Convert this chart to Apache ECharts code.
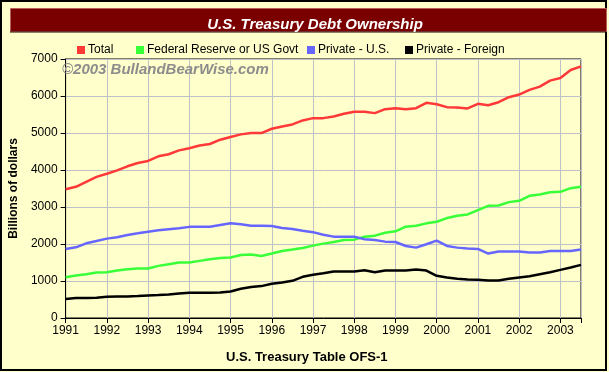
<!DOCTYPE html>
<html>
<head>
<meta charset="utf-8">
<script src="https://cdn.jsdelivr.net/npm/echarts@6/dist/echarts.min.js"></script>
<style>
html,body{margin:0;padding:0;background:#FFFFCC;}
#chart{width:609px;height:372px;}
</style>
</head>
<body>
<div id="chart"></div>
<script>
const quarters = [
  1991, 1991.25, 1991.5, 1991.75,
  1992, 1992.25, 1992.5, 1992.75,
  1993, 1993.25, 1993.5, 1993.75,
  1994, 1994.25, 1994.5, 1994.75,
  1995, 1995.25, 1995.5, 1995.75,
  1996, 1996.25, 1996.5, 1996.75,
  1997, 1997.25, 1997.5, 1997.75,
  1998, 1998.25, 1998.5, 1998.75,
  1999, 1999.25, 1999.5, 1999.75,
  2000, 2000.25, 2000.5, 2000.75,
  2001, 2001.25, 2001.5, 2001.75,
  2002, 2002.25, 2002.5, 2002.75,
  2003, 2003.25, 2003.5
];
const total = [
  3482, 3545, 3680, 3814,
  3900, 3990, 4100, 4190,
  4245, 4370, 4425, 4530,
  4590, 4660, 4702, 4819,
  4891, 4963, 4998, 4998,
  5115, 5178, 5232, 5340,
  5402, 5402, 5447, 5519,
  5573, 5573, 5537, 5645,
  5672, 5645, 5672, 5815,
  5779, 5699, 5690, 5663,
  5788, 5752, 5833, 5968,
  6040, 6165, 6255, 6416,
  6488, 6704, 6802
];
const fedReserve = [
  1104, 1149, 1185, 1229,
  1238, 1283, 1319, 1337,
  1337, 1409, 1454, 1499,
  1499, 1544, 1588, 1624,
  1633, 1705, 1714, 1678,
  1741, 1813, 1849, 1893,
  1956, 2010, 2055, 2109,
  2118, 2199, 2226, 2306,
  2342, 2468, 2495, 2558,
  2602, 2701, 2764, 2800,
  2917, 3033, 3042, 3132,
  3168, 3302, 3338, 3401,
  3410, 3509, 3545
];
const privateUS = [
  1867, 1911, 2019, 2082,
  2145, 2181, 2244, 2288,
  2333, 2369, 2396, 2423,
  2463, 2468, 2468, 2513,
  2558, 2531, 2495, 2495,
  2486, 2432, 2405, 2360,
  2320, 2252, 2199, 2199,
  2199, 2127, 2109, 2064,
  2055, 1947, 1902, 1992,
  2091, 1947, 1902, 1876,
  1867, 1741, 1795, 1795,
  1795, 1768, 1768, 1813,
  1813, 1813, 1849
];
const privateForeign = [
  512, 538, 538, 547,
  574, 583, 583, 592,
  610, 619, 637, 664,
  682, 682, 682, 691,
  718, 790, 835, 862,
  924, 960, 1005, 1113,
  1170, 1211, 1256, 1256,
  1256, 1292, 1238, 1283,
  1283, 1283, 1310, 1283,
  1140, 1095, 1059, 1041,
  1032, 1014, 1014, 1059,
  1095, 1131, 1185, 1238,
  1301, 1364, 1436
];
const seriesNames = ['Total', 'Federal Reserve or US Govt', 'Private - U.S.', 'Private - Foreign'];
const seriesColors = ['#FF3838', '#38FF38', '#6666FF', '#000000'];
const seriesValues = [total, fedReserve, privateUS, privateForeign];

const FONT = '"Liberation Sans", Arial, sans-serif';
const chart = echarts.init(document.getElementById('chart'), null, {renderer: 'canvas'});

function pairs(vals) { return quarters.map((q, i) => [q, vals[i]]); }

const legendLefts = [72, 131, 302, 400];

const option = {
  backgroundColor: '#FFFFCC',
  animation: false,
  title: {
    text: 'U.S. Treasury Debt Ownership',
    left: 310, top: 12, textAlign: 'center',
    textStyle: {color: '#FFFFFF', fontFamily: FONT, fontSize: 15, fontWeight: 'bold', fontStyle: 'italic'}
  },
  legend: seriesNames.map((n, i) => ({
    data: [n], left: legendLefts[i], top: 39,
    icon: 'rect', itemWidth: 8, itemHeight: 8, itemGap: 4,
    textStyle: {color: '#000', fontFamily: FONT, fontSize: 12, padding: [0, 0, 0, -2]},
    selectedMode: false
  })),
  grid: {left: 60, right: 28, top: 59, bottom: 54, show: true, borderColor: '#000', borderWidth: 1, backgroundColor: 'transparent'},
  xAxis: {
    type: 'value', min: 1991, max: 2003.5, interval: 1,
    axisLine: {lineStyle: {color: '#000', width: 1}},
    axisTick: {show: true, length: 5, lineStyle: {color: '#000'}},
    axisLabel: {color: '#000', fontFamily: FONT, fontSize: 12, margin: 7,
      formatter: v => (Math.abs(v - Math.round(v)) < 1e-6 ? String(Math.round(v)) : '')},
    splitLine: {show: true, lineStyle: {color: '#C0C0C8', width: 1}}
  },
  yAxis: {
    type: 'value', min: 0, max: 7000, interval: 1000,
    name: 'Billions of dollars', nameLocation: 'middle', nameGap: 43, nameRotate: 90,
    nameTextStyle: {color: '#000', fontFamily: FONT, fontSize: 12, fontWeight: 'bold'},
    axisLine: {show: true, lineStyle: {color: '#000', width: 1}},
    axisTick: {show: true, length: 5, lineStyle: {color: '#000'}},
    axisLabel: {color: '#000', fontFamily: FONT, fontSize: 12, margin: 8, formatter: v => String(v)},
    splitLine: {show: true, lineStyle: {color: '#C0C0C8', width: 1}}
  },
  series: seriesNames.map((n, i) => ({
    name: n, type: 'line', data: pairs(seriesValues[i]),
    showSymbol: false, symbol: 'none', smooth: false,
    itemStyle: {color: seriesColors[i]},
    lineStyle: {color: seriesColors[i], width: 2.5},
    z: 3 + i
  })),
  graphic: [
    {type: 'rect', z: -10, shape: {x: 1, y: 1, width: 605, height: 369},
      style: {fill: '#FFFFCC', stroke: '#000', lineWidth: 2}},
    {type: 'rect', z: -5, shape: {x: 10.5, y: 8.5, width: 596, height: 23},
      style: {fill: '#7A0000', stroke: '#B86060', lineWidth: 1}},
    {type: 'polyline', z: -4, shape: {points: [[10, 32], [606, 32]]},
      style: {stroke: '#200000', lineWidth: 1}},
    {type: 'text', z: 2, left: 62, top: 62,
      style: {text: '\u00A92003 BullandBearWise.com', fill: '#8C8C8C', font: 'italic bold 15px "Liberation Sans", Arial, sans-serif'}},
    {type: 'text', z: 2, left: 226, top: 351,
      style: {text: 'U.S. Treasury Table OFS-1', fill: '#000', font: 'bold 13px "Liberation Sans", Arial, sans-serif'}}
  ]
};
chart.setOption(option);
</script>
</body>
</html>
